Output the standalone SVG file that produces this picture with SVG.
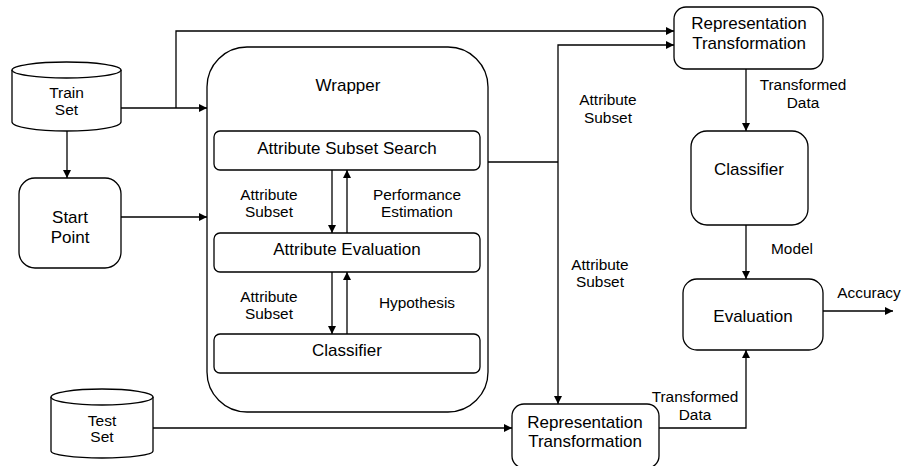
<svg xmlns="http://www.w3.org/2000/svg" width="903" height="466" viewBox="0 0 903 466">
  <style>
    .box { fill: #ffffff; stroke: #000000; stroke-width: 1.3; }
    .t { font-family: "Liberation Sans", Arial, sans-serif; font-size: 17px; fill: #000; text-anchor: middle; }
    .db { font-family: "Liberation Sans", Arial, sans-serif; font-size: 15.5px; fill: #000; text-anchor: middle; }
    .lbl { font-family: "Liberation Sans", Arial, sans-serif; font-size: 15.4px; fill: #000; text-anchor: middle; }
    .edge { fill: none; stroke: #000; stroke-width: 1.3; }
  </style>
  <defs>
    <marker id="arrow" viewBox="0 0 10 10" refX="10" refY="5" markerWidth="8" markerHeight="8" markerUnits="userSpaceOnUse" orient="auto">
      <path d="M0,0 L10,5 L0,10 z" fill="#000"/>
    </marker>
  </defs>
  <rect width="903" height="466" fill="#ffffff"/>

  <!-- Train Set -->
  <g id="train-set">
    <path class="box" d="M12,70 L12,122 A54.5,9 0 0 0 121,122 L121,70"/>
    <ellipse class="box" cx="66.5" cy="70" rx="54.5" ry="8"/>
    <text class="db" x="66.5" y="98">Train</text>
    <text class="db" x="66.5" y="115">Set</text>
  </g>

  <!-- Start Point -->
  <g id="start-point">
    <rect class="box" x="19" y="178" width="102" height="90" rx="16"/>
    <text class="t" x="70" y="223">Start</text>
    <text class="t" x="70" y="243">Point</text>
  </g>

  <!-- Wrapper -->
  <g id="wrapper">
    <rect class="box" x="207" y="47" width="281" height="365" rx="40"/>
    <text class="t" x="348" y="91">Wrapper</text>
  </g>

  <g id="attribute-subset-search">
    <rect class="box" x="214" y="131" width="266" height="39" rx="6"/>
    <text class="t" x="347" y="154">Attribute Subset Search</text>
  </g>

  <g id="attribute-evaluation">
    <rect class="box" x="214" y="233" width="266" height="39" rx="6"/>
    <text class="t" x="347" y="255">Attribute Evaluation</text>
  </g>

  <g id="inner-classifier">
    <rect class="box" x="214" y="334" width="266" height="39" rx="6"/>
    <text class="t" x="347" y="356">Classifier</text>
  </g>

  <!-- Test Set -->
  <g id="test-set">
    <path class="box" d="M51,397 L51,451 A51,7 0 0 0 153,451 L153,397"/>
    <ellipse class="box" cx="102" cy="397" rx="51" ry="8"/>
    <text class="db" x="102" y="426">Test</text>
    <text class="db" x="102" y="442">Set</text>
  </g>

  <!-- Top transformation -->
  <g id="rep-transform-top">
    <rect class="box" x="674" y="7" width="149" height="62" rx="12"/>
    <text class="t" x="749" y="29">Representation</text>
    <text class="t" x="749" y="49">Transformation</text>
  </g>

  <g id="classifier">
    <rect class="box" x="691" y="131" width="117" height="94" rx="16"/>
    <text class="t" x="749" y="175">Classifier</text>
  </g>

  <g id="evaluation">
    <rect class="box" x="683" y="279" width="140" height="71" rx="14"/>
    <text class="t" x="753" y="322">Evaluation</text>
  </g>

  <!-- Bottom transformation -->
  <g id="rep-transform-bottom">
    <rect class="box" x="512" y="404" width="147" height="64" rx="12"/>
    <text class="t" x="585" y="428">Representation</text>
    <text class="t" x="585" y="447">Transformation</text>
  </g>

  <!-- connectors -->
  <g id="connectors">
    <path class="edge" d="M121,108 L207,108" marker-end="url(#arrow)"/>
    <path class="edge" d="M176,108 L176,31 L674,31" marker-end="url(#arrow)"/>
    <path class="edge" d="M67,131 L67,178" marker-end="url(#arrow)"/>
    <path class="edge" d="M121,217 L207,217" marker-end="url(#arrow)"/>
    <path class="edge" d="M332,170 L332,233" marker-end="url(#arrow)"/>
    <path class="edge" d="M347,233 L347,170" marker-end="url(#arrow)"/>
    <path class="edge" d="M332,272 L332,334" marker-end="url(#arrow)"/>
    <path class="edge" d="M347,334 L347,272" marker-end="url(#arrow)"/>
    <path class="edge" d="M488,162 L558,162"/>
    <path class="edge" d="M558,162 L558,45 L674,45" marker-end="url(#arrow)"/>
    <path class="edge" d="M558,162 L558,404" marker-end="url(#arrow)"/>
    <path class="edge" d="M746,69 L746,131" marker-end="url(#arrow)"/>
    <path class="edge" d="M746,225 L746,279" marker-end="url(#arrow)"/>
    <path class="edge" d="M823,311 L893,311" marker-end="url(#arrow)"/>
    <path class="edge" d="M153,428 L512,428" marker-end="url(#arrow)"/>
    <path class="edge" d="M659,428 L746,428 L746,350" marker-end="url(#arrow)"/>

    <text class="lbl" x="269" y="200">Attribute</text>
    <text class="lbl" x="269" y="217">Subset</text>
    <text class="lbl" x="417" y="200">Performance</text>
    <text class="lbl" x="417" y="217">Estimation</text>
    <text class="lbl" x="269" y="302">Attribute</text>
    <text class="lbl" x="269" y="319">Subset</text>
    <text class="lbl" x="417" y="308">Hypothesis</text>
    <text class="lbl" x="608" y="105">Attribute</text>
    <text class="lbl" x="608" y="123">Subset</text>
    <text class="lbl" x="600" y="270">Attribute</text>
    <text class="lbl" x="600" y="287">Subset</text>
    <text class="lbl" x="803" y="90">Transformed</text>
    <text class="lbl" x="803" y="108">Data</text>
    <text class="lbl" x="792" y="254">Model</text>
    <text class="lbl" x="869" y="298">Accuracy</text>
    <text class="lbl" x="695" y="402">Transformed</text>
    <text class="lbl" x="695" y="420">Data</text>
  </g>
</svg>
